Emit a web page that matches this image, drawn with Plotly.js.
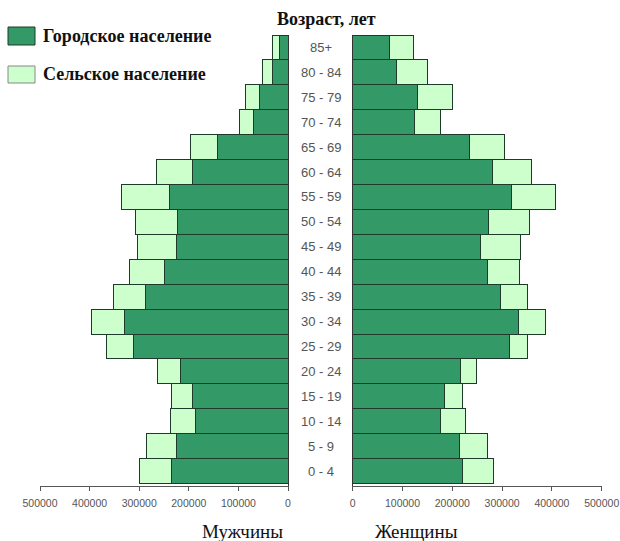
<!DOCTYPE html>
<html>
<head>
<meta charset="utf-8">
<script src="https://cdn.plot.ly/plotly-3.0.1.min.js"></script>
<style>html,body{margin:0;padding:0;background:#fff;}#chart{width:620px;height:541px;}</style>
</head>
<body>
<div id="chart"></div>
<script>
// Age groups, bottom to top
const ageGroups = ["0 - 4","5 - 9","10 - 14","15 - 19","20 - 24","25 - 29","30 - 34","35 - 39","40 - 44","45 - 49","50 - 54","55 - 59","60 - 64","65 - 69","70 - 74","75 - 79","80 - 84","85+"];
const menUrban   = [234000,225000,186000,192000,216000,312000,329000,288000,249000,224000,223000,239000,192000,142000,70000,58000,31000,17000];
const menRural   = [65000,60000,51000,42000,47000,54000,68000,63000,71000,80000,85000,97000,73000,54000,27000,27000,20000,14000];
const womenUrban = [221000,214000,176000,184000,216000,314000,333000,296000,271000,257000,273000,318000,280000,234000,125000,131000,88000,74000];
const womenRural = [61000,56000,50000,36000,33000,36000,54000,55000,64000,80000,82000,90000,80000,71000,51000,70000,63000,49000];
const seriesNames = ["Городское население","Сельское население"];
const tickValues = [0,100000,200000,300000,400000,500000];
const chartTitle = "Возраст, лет";
const panelTitles = ["Мужчины","Женщины"];

const darkGreen = "#339966";
const lightGreen = "#ccffcc";
const outline = {color:"#1e3a2a", width:1};

const W = 620, H = 541, T = 35, B = 55;
const plotH = H - T - B;
const py = y => (H - B - y) / plotH;   // pixel y -> paper y
const px = x => x / W;                 // pixel x -> paper x

const traces = [
  {type:"bar", orientation:"h", y:ageGroups, x:menUrban, name:seriesNames[0], marker:{color:darkGreen, line:outline}, xaxis:"x", yaxis:"y"},
  {type:"bar", orientation:"h", y:ageGroups, x:menRural, name:seriesNames[1], marker:{color:lightGreen, line:outline}, xaxis:"x", yaxis:"y"},
  {type:"bar", orientation:"h", y:ageGroups, x:womenUrban, name:seriesNames[0], marker:{color:darkGreen, line:outline}, xaxis:"x2", yaxis:"y2"},
  {type:"bar", orientation:"h", y:ageGroups, x:womenRural, name:seriesNames[1], marker:{color:lightGreen, line:outline}, xaxis:"x2", yaxis:"y2"}
];

const tickFont = {family:"Liberation Sans, Arial, sans-serif", size:10.5, color:"#555"};
const axX = {
  tickvals:tickValues, ticktext:tickValues.map(String), tickfont:tickFont,
  showgrid:false, zeroline:false, showline:true, linecolor:"#555", linewidth:1,
  ticks:"outside", ticklen:4, tickcolor:"#555", ticklabelstandoff:3, fixedrange:true
};
const axY = {type:"category", range:[-0.6,17.5], showticklabels:false, showgrid:false, zeroline:false, showline:true, linecolor:"#333", linewidth:1, ticks:"", fixedrange:true};

const annotations = ageGroups.map(a => ({
  text:a, x:px(321), xref:"paper", y:a, yref:"y", showarrow:false, xanchor:"center", yanchor:"middle",
  font:{family:"Liberation Sans, Arial, sans-serif", size:13, color:"#555"}
}));
const serifBold = {family:"Liberation Serif, Times New Roman, serif", size:18, color:"#111"};
annotations.push({text:"<b>"+chartTitle+"</b>", x:px(326), y:py(19), xref:"paper", yref:"paper", showarrow:false, xanchor:"center", yanchor:"middle", font:serifBold});
annotations.push({text:"<b>"+seriesNames[0]+"</b>", x:px(41), y:py(36), xref:"paper", yref:"paper", showarrow:false, xanchor:"left", yanchor:"middle", font:serifBold});
annotations.push({text:"<b>"+seriesNames[1]+"</b>", x:px(41), y:py(74), xref:"paper", yref:"paper", showarrow:false, xanchor:"left", yanchor:"middle", font:serifBold});
const panelFont = {family:"Liberation Serif, Times New Roman, serif", size:19, color:"#111"};
annotations.push({text:panelTitles[0], x:px(243), y:py(531), xref:"paper", yref:"paper", showarrow:false, xanchor:"center", yanchor:"middle", font:panelFont});
annotations.push({text:panelTitles[1], x:px(416), y:py(531), xref:"paper", yref:"paper", showarrow:false, xanchor:"center", yanchor:"middle", font:panelFont});

const shapes = [
  {type:"rect", xref:"paper", yref:"paper", x0:px(8), x1:px(35), y0:py(45), y1:py(27), fillcolor:darkGreen, line:{color:"#1e3a2a", width:1}},
  {type:"rect", xref:"paper", yref:"paper", x0:px(8), x1:px(35), y0:py(83), y1:py(66), fillcolor:lightGreen, line:{color:"#888", width:1}}
];

const layout = {
  width:W, height:H, margin:{l:0, r:0, t:T, b:B},
  paper_bgcolor:"#fff", plot_bgcolor:"#fff",
  barmode:"stack", bargap:0, showlegend:false,
  xaxis:Object.assign({}, axX, {domain:[px(40), px(288)], range:[500000,0], anchor:"y"}),
  xaxis2:Object.assign({}, axX, {domain:[px(352.7), px(601.7)], range:[0,500000], anchor:"y2"}),
  yaxis:Object.assign({}, axY, {anchor:"x", side:"right"}),
  yaxis2:Object.assign({}, axY, {anchor:"x2", side:"left", matches:"y"}),
  annotations:annotations, shapes:shapes
};

Plotly.newPlot("chart", traces, layout, {displayModeBar:false, staticPlot:true});
</script>
</body>
</html>
